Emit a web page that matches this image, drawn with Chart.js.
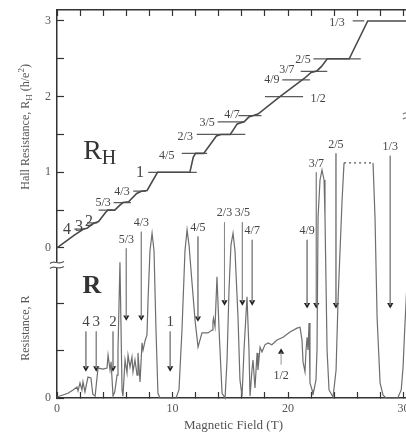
<!DOCTYPE html>
<html>
<head>
<meta charset="utf-8">
<script src="https://cdn.jsdelivr.net/npm/chart.js@4.4.0/dist/chart.umd.min.js"></script>
<style>
  html, body { margin: 0; padding: 0; background: #fff; overflow: hidden; }
  #wrap { width: 406px; height: 436px; overflow: hidden; }
</style>
</head>
<body>
<div id="wrap"><canvas id="fqhe" width="416" height="436"></canvas></div>
<script>
// Hall resistance R_H (units of h/e^2) against magnetic field (T)
var hallField = [0, 1.5, 2.3, 2.6, 3.0, 3.3, 3.6, 4.2, 4.4, 5.0, 5.4, 5.7, 6.2, 6.9, 7.3, 7.8, 8.7, 11.5, 11.8, 12.0,
    12.7, 13.8, 14.2, 15.0, 15.6, 16.2, 16.6, 17.0, 17.4, 19.3, 21.4, 22.0, 22.5, 22.9, 23.4, 25.3, 26.9, 30.6];
var hallValue = [0, 0.17, 0.25, 0.26, 0.31, 0.333, 0.35, 0.47, 0.5, 0.5, 0.56, 0.6, 0.61, 0.72, 0.75, 0.76, 1.0, 1.0, 1.2, 1.25,
    1.25, 1.48, 1.5, 1.5, 1.64, 1.667, 1.73, 1.75, 1.77, 2.0, 2.24, 2.32, 2.34, 2.40, 2.5, 2.5, 3.0, 3.0];

// filling factors marked on the Hall trace
var hallNames = ["4", "3", "2", "5/3", "4/3", "1", "4/5", "2/3", "3/5", "4/7", "1/2", "4/9", "3/7", "2/5", "1/3"];
var hallLevel = [0.25, 0.333, 0.5, 0.6, 0.75, 1, 1.25, 1.5, 1.667, 1.75, 2, 2.222, 2.333, 2.5, 3];
var markFrom = [1.5, 2.6, 3.6, 4.9, 6.6, 7.9, 10.8, 12.1, 13.9, 15.7, 18.0, 19.5, 21.1, 22.2, 25.6];
var markTo = [2.4, 3.5, 4.8, 6.4, 7.7, 12.1, 13.0, 16.3, 16.2, 17.7, 21.3, 21.9, 23.4, 26.3, 26.6];
var hallLabelField = [0.87, 1.9, 2.77, 4.0, 5.63, 7.19, 9.5, 11.1, 13.0, 15.15, 22.6, 18.6, 19.9, 21.3, 24.24];
var hallLabelValue = [0.24, 0.28, 0.34, 0.59, 0.74, 0.99, 1.22, 1.47, 1.65, 1.76, 1.97, 2.22, 2.35, 2.48, 2.97];

// longitudinal resistance R (arb. units); null = trace runs off scale
var resField = [0, 0.95, 1.39, 1.73, 1.82, 1.99, 2.16, 2.25, 2.42, 2.68,
    2.94, 3.1, 3.3, 3.55, 3.98, 4.33, 4.42, 4.59, 4.68, 4.85,
    5.0, 5.2, 5.28, 5.45, 5.63, 5.71, 5.89, 6.06, 6.15, 6.32,
    6.49, 6.58, 6.75, 6.93, 7.01, 7.19, 7.36, 7.45, 7.62, 7.79,
    7.88, 8.05, 8.23, 8.4, 8.57, 8.74, 8.92, 10.3, 10.56, 10.82,
    11.08, 11.26, 11.43, 11.69, 11.95, 12.21, 12.55, 13.07, 13.42, 13.5,
    13.55, 13.68, 13.85, 14.03, 14.29, 14.55, 14.72, 14.89, 15.06, 15.24,
    15.41, 15.67, 15.84, 16.02, 16.19, 16.45, 16.62, 16.71, 16.88, 16.97,
    17.14, 17.32, 17.4, 17.58, 17.75, 18.0, 18.27, 18.6, 19.05, 19.57,
    20.17, 20.78, 21.04, 21.21, 21.3, 21.47, 21.56, 21.65, 21.73, 21.82,
    21.9, 22.08, 22.16, 22.42, 22.51, 22.6, 22.77, 22.94, 23.12, 23.2,
    23.38, 23.55, 23.9, 24.16, 24.33, 24.68, 24.85, 26.0, 27.36, 27.53,
    27.71, 27.97, 28.23, 28.5, 29.5, 29.8, 29.96, 30.1, 30.3, 30.56];
var resValue = [0.02, 0.1, 0.17, 0.23, 0.15, 0.32, 0.17, 0.34, 0.13, 0.44,
    0.42, 0.08, 0.04, 0.63, 0.61, 0.63, 0.9, 0.59, 0.76, 0.04,
    0.13, 0.48, 1.01, 2.86, 0.17, 0.04, 0.8, 0.53, 0.9, 0.65,
    0.86, 0.55, 0.8, 0.48, 0.95, 0.34, 1.16, 1.01, 1.2, 1.33,
    2.06, 3.1, 3.47, 3.1, 1.43, 0.1, 0, 0, 0.17, 1.43,
    3.1, 3.54, 3.22, 2.42, 1.64, 1.07, 1.37, 1.37, 1.43, 1.6,
    1.68, 1.5, 2.55, 1.43, 0.1, 0, 0.8, 2.27, 3.22, 3.47,
    3.1, 1.7, 0.38, 0.04, 1.01, 2.13, 1.01, 0.04, 0.59, 0.8,
    0.21, 0.95, 0.59, 1.07, 0.97, 1.12, 1.16, 1.12, 1.22, 1.28,
    1.39, 1.47, 1.49, 1.22, 0.76, 0.55, 1.01, 1.28, 1.01, 1.58,
    0.32, 0.17, 0.06, 0.38, 1.01, 3.81, 4.59, 4.8, 4.59, 3.81,
    1.01, 0.17, 0.02, 0.59, 2.06, 4.17, 4.95, null, 4.95, 3.81,
    1.7, 0.32, 0.06, 0, 0, 0.17, 0.65, 1.43, 2.42, 4.17];
var offScaleField = [24.85, 27.36];
var offScaleValue = [4.95, 4.95];

// arrows marking the resistance minima
var arrowNames = ["4", "3", "2", "5/3", "4/3", "1", "4/5", "2/3", "3/5", "4/7", "1/2", "4/9", "3/7", "2/5", "1/3"];
var arrowField = [2.5, 3.4, 4.85, 6.0, 7.3, 9.8, 12.2, 14.5, 16.05, 16.9, 19.4, 21.65, 22.45, 24.15, 28.85];
var arrowTail = [1.4, 1.4, 1.4, 3.15, 3.5, 1.4, 3.4, 3.7, 3.7, 3.33, 0.7, 3.33, 4.75, 5.15, 5.1];
var arrowHead = [0.63, 0.63, 0.63, 1.7, 1.7, 0.63, 1.68, 2.02, 2.02, 2.02, 0.97, 1.96, 1.96, 1.96, 1.96];

var xTicks = [0, 10, 20, 30];
var hallTicks = [0, 1, 2, 3];

var SERIF = '"Liberation Serif", "DejaVu Serif", serif';

function zip(xs, ys) {
    return xs.map(function (x, i) { return { x: x, y: ys[i] }; });
}

function segments(from, to, level) {
    var pts = [];
    level.forEach(function (v, i) {
        pts.push({ x: from[i], y: v }, { x: to[i], y: v }, { x: to[i], y: null });
    });
    return pts;
}

var shaftPoints = [];
arrowField.forEach(function (b, i) {
    shaftPoints.push({ x: b, y: arrowTail[i] }, { x: b, y: arrowHead[i] }, { x: b, y: null });
});
var headPoints = zip(arrowField, arrowHead);
var headRotation = arrowTail.map(function (t, i) { return t > arrowHead[i] ? 180 : 0; });

// text, break marks and titles drawn on top
function drawRich(ctx, parts, cx, cy, rotate) {
    ctx.save();
    ctx.translate(cx, cy);
    if (rotate) ctx.rotate(-Math.PI / 2);
    var total = 0;
    parts.forEach(function (p) {
        ctx.font = p[1] + "px " + SERIF;
        total += ctx.measureText(p[0]).width;
    });
    var x = -total / 2;
    ctx.textAlign = "left";
    ctx.textBaseline = "alphabetic";
    parts.forEach(function (p) {
        ctx.font = p[1] + "px " + SERIF;
        ctx.fillText(p[0], x, p[2]);
        x += ctx.measureText(p[0]).width;
    });
    ctx.restore();
}

function squiggle(ctx, cx, cy) {
    ctx.fillStyle = "#fff";
    ctx.fillRect(cx - 2, cy - 3, 4, 6);
    ctx.strokeStyle = "#555";
    ctx.lineWidth = 1.2;
    [-2.5, 2.5].forEach(function (dy) {
        ctx.beginPath();
        ctx.moveTo(cx - 7, cy + dy + 1);
        ctx.bezierCurveTo(cx - 3, cy + dy - 3, cx + 1, cy + dy + 3, cx + 7, cy + dy - 1);
        ctx.stroke();
    });
}

var decorPlugin = {
    id: "decor",
    afterDraw: function (chart) {
        var ctx = chart.ctx;
        var xs = chart.scales.x, yH = chart.scales.yH, yR = chart.scales.yR;
        var area = chart.chartArea;
        ctx.save();
        ctx.fillStyle = "#444";
        ctx.textAlign = "center";
        ctx.textBaseline = "middle";

        hallNames.forEach(function (name, i) {
            ctx.font = (name.indexOf("/") < 0 ? "16px " : "12px ") + SERIF;
            ctx.fillText(name, xs.getPixelForValue(hallLabelField[i]), yH.getPixelForValue(hallLabelValue[i]));
        });

        arrowNames.forEach(function (name, i) {
            ctx.font = (name.indexOf("/") < 0 ? "15px " : "12px ") + SERIF;
            var tail = yR.getPixelForValue(arrowTail[i]);
            var up = arrowTail[i] < arrowHead[i];
            ctx.fillText(name, xs.getPixelForValue(arrowField[i]), up ? tail + 11 : tail - 9);
        });

        ctx.fillStyle = "#333";
        drawRich(ctx, [["R", 28, 0], ["H", 20, 5]], xs.getPixelForValue(3.7), yH.getPixelForValue(1.17), false);
        ctx.font = "bold 26px " + SERIF;
        ctx.textAlign = "center";
        ctx.textBaseline = "alphabetic";
        ctx.fillText("R", xs.getPixelForValue(3.03), yR.getPixelForValue(2.21));

        ctx.fillStyle = "#555";
        drawRich(ctx, [["Hall Resistance, R", 12, 4], ["H", 9, 7], [" (h/e", 12, 4], ["2", 9, -1], [")", 12, 4]],
            area.left - 32, yH.getPixelForValue(1.6), true);
        drawRich(ctx, [["Resistance, R", 12, 4]], area.left - 32, yR.getPixelForValue(1.47), true);

        squiggle(ctx, area.left, yH.bottom);
        squiggle(ctx, area.right, yH.getPixelForValue(1.75));
        ctx.restore();
    }
};

function noPadding(s) {
    s.paddingTop = 0;
    s.paddingBottom = 0;
    s.paddingLeft = 0;
    s.paddingRight = 0;
}

var axisColor = "#333";

new Chart(document.getElementById("fqhe"), {
    type: "line",
    data: {
        datasets: [
            {
                label: "Hall resistance",
                data: zip(hallField, hallValue),
                yAxisID: "yH",
                borderColor: "#4a4a4a",
                borderWidth: 1.6,
                clip: false
            },
            {
                label: "Hall markers",
                data: segments(markFrom, markTo, hallLevel),
                yAxisID: "yH",
                borderColor: "#5a5a5a",
                borderWidth: 1.2,
                spanGaps: false,
                clip: false
            },
            {
                label: "Resistance",
                data: zip(resField, resValue),
                yAxisID: "yR",
                borderColor: "#6e6e6e",
                borderWidth: 1.2,
                spanGaps: false,
                clip: false
            },
            {
                label: "Off scale",
                data: zip(offScaleField, offScaleValue),
                yAxisID: "yR",
                borderColor: "#555",
                borderWidth: 1.2,
                borderDash: [2, 3],
                clip: false
            },
            {
                label: "Arrow shafts",
                data: shaftPoints,
                yAxisID: "yR",
                borderColor: "#8a8a8a",
                borderWidth: 0.9,
                spanGaps: false,
                clip: false
            },
            {
                label: "Arrow heads",
                data: headPoints,
                yAxisID: "yR",
                showLine: false,
                pointStyle: "triangle",
                pointRadius: 3.6,
                pointRotation: headRotation,
                pointBackgroundColor: "#222",
                pointBorderColor: "#222",
                pointBorderWidth: 0,
                clip: false
            }
        ]
    },
    options: {
        responsive: false,
        animation: false,
        events: [],
        layout: { padding: { left: 0, right: 6, top: 0, bottom: 0 } },
        elements: { point: { radius: 0 }, line: { tension: 0 } },
        plugins: { legend: { display: false }, tooltip: { enabled: false } },
        scales: {
            x: {
                type: "linear",
                position: "bottom",
                min: 0,
                max: 30.56,
                border: { color: axisColor, width: 1.5 },
                grid: { drawOnChartArea: false, color: axisColor, tickLength: -6, tickWidth: 1.2 },
                ticks: {
                    stepSize: 2,
                    includeBounds: false,
                    padding: 10,
                    maxRotation: 0,
                    autoSkip: false,
                    color: "#555",
                    font: { family: SERIF, size: 12 },
                    callback: function (v) { return xTicks.indexOf(v) >= 0 ? String(v) : ""; }
                },
                title: {
                    display: true,
                    text: "Magnetic Field (T)",
                    color: "#555",
                    font: { family: SERIF, size: 13 },
                    padding: { top: 0, bottom: 3 }
                },
                afterFit: function (s) { s.height = 38; noPadding(s); }
            },
            x2: {
                type: "linear",
                position: "top",
                min: 0,
                max: 30.56,
                border: { color: axisColor, width: 1.5 },
                grid: { drawOnChartArea: false, color: axisColor, tickLength: -6, tickWidth: 1.2 },
                ticks: { stepSize: 2, includeBounds: false, display: false },
                afterFit: function (s) { s.height = 10; noPadding(s); }
            },
            yR: {
                type: "linear",
                position: "left",
                stack: "left",
                stackWeight: 133,
                min: 0,
                max: 2.8,
                border: { color: axisColor, width: 1.5 },
                grid: { drawOnChartArea: false, color: axisColor, tickLength: -7, tickWidth: 1.2 },
                ticks: {
                    stepSize: 1,
                    includeBounds: false,
                    padding: 13,
                    color: "#555",
                    font: { family: SERIF, size: 12 },
                    callback: function (v) { return v === 0 ? "0" : ""; }
                },
                afterFit: function (s) { s.width = 57; noPadding(s); }
            },
            yH: {
                type: "linear",
                position: "left",
                stack: "left",
                stackWeight: 255,
                min: -0.225,
                max: 3.145,
                border: { color: axisColor, width: 1.5 },
                grid: { drawOnChartArea: false, color: axisColor, tickLength: -7, tickWidth: 1.2 },
                ticks: {
                    stepSize: 0.5,
                    includeBounds: false,
                    padding: 13,
                    color: "#555",
                    font: { family: SERIF, size: 12 },
                    callback: function (v) { return hallTicks.indexOf(v) >= 0 ? String(v) : ""; }
                },
                afterFit: function (s) { s.width = 57; noPadding(s); }
            }
        }
    },
    plugins: [decorPlugin]
});
</script>
</body>
</html>
